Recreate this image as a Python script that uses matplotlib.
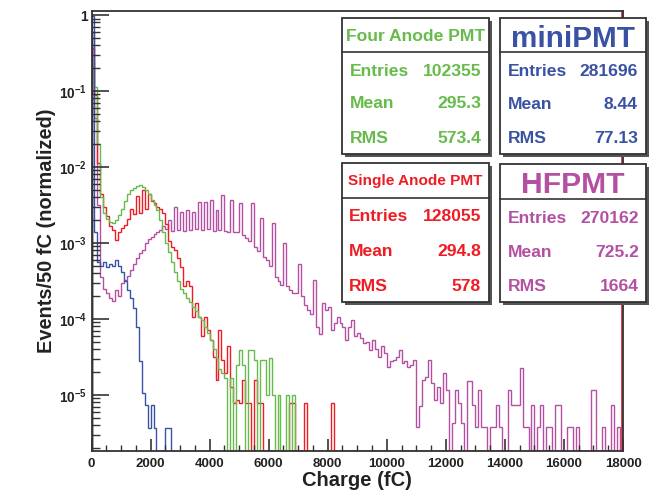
import numpy as np
import matplotlib.pyplot as plt
from matplotlib.patches import Rectangle
from matplotlib.lines import Line2D
from matplotlib.ticker import FixedLocator, FixedFormatter, LogLocator, NullFormatter, MultipleLocator
from matplotlib.transforms import offset_copy

plt.rcParams['font.family'] = ['Liberation Sans', 'DejaVu Sans']
plt.rcParams['font.weight'] = 'bold'
plt.rcParams['mathtext.fontset'] = 'custom'
plt.rcParams['mathtext.bf'] = 'Liberation Sans:bold'
plt.rcParams['mathtext.rm'] = 'Liberation Sans:bold'
plt.rcParams['mathtext.default'] = 'bf'

# ==========================================
# data: log10(normalized entries) per 100 fC bin, None = empty bin
# ==========================================
bin_width = 100
q_max = 18000

mini_log = [-0.01, -2.85, -3.25, -3.3, -3.25, -3.32, -3.28, -3.3, -3.22, -3.3,
            -3.38, -3.5, -3.62, -3.72, -3.85, -4.1, -4.55, -4.97, -5.13, -5.43,
            -5.13, -5.43, None, None, None, -5.43, -5.43]

four_log = [-0.62, -0.95, -1.7, -2.4, -2.6, -2.68, -2.72, -2.74, -2.7, -2.63,
            -2.55, -2.45, -2.36, -2.3, -2.27, -2.25, -2.24, -2.26, -2.3, -2.36,
            -2.43, -2.5, -2.57, -2.7, -2.85, -3.0, -3.12, -3.25, -3.38, -3.5,
            -3.6, -3.66, -3.72, -3.78, -3.84, -3.9, -3.98, -4.02, -4.1, -4.18,
            -4.28, -4.4, -4.52, -4.66, -4.71, -4.78, None, -4.78, None, -4.6,
            -4.41, -4.6, None, -4.41, -4.41, -4.54, None, -4.54, -4.54, -5.0,
            -4.51, -5.0, None, -5.0, None, None, -5.0, None, -5.0]

single_log = [-0.44, -1.05, -1.95, -2.35, -2.52, -2.65, -2.77, -2.83, -2.96, -2.86,
              -2.8, -2.76, -2.68, -2.55, -2.62, -2.38, -2.6, -2.3, -2.55, -2.35,
              -2.45, -2.47, -2.52, -2.55, -2.6, -2.75, -2.98, -3.05, -3.09, -3.2,
              -3.31, -3.57, -3.5, -3.57, -3.97, -3.79, -3.97, -4.23, -3.97, -4.15,
              -4.28, -4.5, -4.8, -4.14, -4.54, -4.71, -4.36, -4.89, -5.1, -5.07,
              -5.1, -4.8, -5.1, -5.1, None, -4.8, -5.1, -5.1, None, None,
              None, None, None, None, None, None, None, -5.1, -5.1, None,
              None, None, -5.1, None, None, None, None, None, None, None,
              None, -5.1]

hf_log = [-0.22, -1.35, -2.5, -3.45, -3.6, -3.66, -3.72, -3.77, -3.62, -3.7,
          -3.53, -3.49, -3.44, -3.36, -3.27, -3.2, -3.13, -3.09, -3.0, -2.95,
          -2.92, -2.88, -2.86, -2.83, -2.78, -2.82, -2.7, -2.84, -2.52, -2.83,
          -2.59, -2.84, -2.57, -2.83, -2.59, -2.82, -2.46, -2.83, -2.46, -2.82,
          -2.43, -2.84, -2.57, -2.83, -2.37, -2.84, -2.85, -2.43, -2.85, -2.86,
          -2.48, -2.9, -2.93, -2.98, -2.48, -3.05, -3.1, -2.67, -3.18, -3.22,
          -3.3, -2.74, -3.45, -3.5, -3.55, -3.0, -3.57, -3.62, -3.66, -3.66,
          -3.27, -3.7, -3.82, -3.88, -3.93, -3.49, -4.1, -4.2, -3.79, -3.88,
          -3.84, -4.14, -4.05, -3.97, -4.05, -4.1, -4.28, -4.1, -4.01, -4.23,
          -4.18, -4.25, -4.32, -4.3, -4.41, -4.28, -4.4, -4.5, -4.36, -4.45,
          -4.63, -4.55, -4.54, -4.5, -4.41, -4.58, -4.55, -4.63, -4.6, -4.54,
          -5.42, -5.15, -4.8, -4.76, -4.54, -4.84, -5.07, -4.9, -5.11, -4.71,
          -4.93, None, -5.37, -4.93, -5.1, -5.37, None, -4.82, -4.82, -5.13,
          -5.42, -4.94, -5.42, -5.42, None, -5.42, -5.42, -5.13, -5.42, None,
          None, -4.94, -5.13, -5.13, -5.13, -4.65, -5.42, -5.42, None, -5.13,
          None, -5.42, -5.13, None, -5.42, -5.42, None, -5.13, -5.13, None,
          None, -5.42, -5.42, None, -5.42, None, None, None, None, -4.94,
          -4.94, None, None, -5.42, None, None, -5.13, None, -5.42, None]

names = ["Four Anode PMT", "miniPMT", "Single Anode PMT", "HFPMT"]
entries = ["102355", "281696", "128055", "270162"]
means = ["295.3", "8.44", "294.8", "725.2"]
rmss = ["573.4", "77.13", "578", "1664"]

c_green = '#66bb4a'
c_blue = '#3a52a4'
c_red = '#ee1c24'
c_mag = '#b450a2'

y_lo, y_hi = 1.83e-6, 1.13
edges = np.arange(0, q_max + bin_width, bin_width)


def to_values(logs):
    v = np.full(len(edges) - 1, y_lo)
    for i, l in enumerate(logs):
        if l is not None:
            v[i] = 10.0 ** l
    return v


W, H = 667, 495
fig = plt.figure(figsize=(W / 100, H / 100), dpi=100)
ax = fig.add_axes([91.5 / W, 1 - 451 / H, (623 - 91.5) / W, (451 - 11) / H])

ax.stairs(to_values(hf_log), edges, baseline=y_lo, color=c_mag, lw=1.0)
ax.stairs(to_values(single_log), edges, baseline=y_lo, color=c_red, lw=1.0)
ax.stairs(to_values(four_log), edges, baseline=y_lo, color=c_green, lw=1.0)
ax.stairs(to_values(mini_log), edges, baseline=y_lo, color=c_blue, lw=1.0)

# red edge line just inside the right frame
ax.plot([q_max, q_max], [0, 1], color=c_red, lw=1.2,
        transform=offset_copy(ax.get_xaxis_transform(), fig=fig, x=-1.5, units='dots'))

ax.set_yscale('log')
ax.set_xlim(0, q_max)
ax.set_ylim(y_lo, y_hi)

ax.yaxis.set_major_locator(FixedLocator([1e-5, 1e-4, 1e-3, 1e-2, 1e-1, 1]))
ax.yaxis.set_major_formatter(FixedFormatter([r'$10^{-5}$', r'$10^{-4}$', r'$10^{-3}$',
                                             r'$10^{-2}$', r'$10^{-1}$', '1']))
ax.yaxis.set_minor_locator(LogLocator(base=10, subs=np.arange(2, 10)))
ax.yaxis.set_minor_formatter(NullFormatter())
ax.xaxis.set_major_locator(MultipleLocator(2000))
ax.xaxis.set_minor_locator(MultipleLocator(500))

ax.tick_params(axis='y', which='major', direction='in', length=12, width=1.2,
               labelsize=9.8, pad=3, color='#333333', labelcolor='#222222')
ax.tick_params(axis='y', which='minor', direction='in', length=6, width=1.0, color='#333333')
ax.tick_params(axis='x', which='major', direction='in', length=8.5, width=1.2,
               labelsize=9.5, pad=5, color='#333333', labelcolor='#222222')
ax.tick_params(axis='x', which='minor', direction='in', length=4.5, width=1.0, color='#333333')
for s in ax.spines.values():
    s.set_linewidth(1.3)
    s.set_color('#333333')

fig.text(46.5 / W, 1 - 230.5 / H, 'Events/50 fC (normalized)', rotation=90,
         ha='center', va='center', fontsize=14.4, color='#222222')
fig.text(357 / W, 1 - 481 / H, 'Charge (fC)', ha='center', va='center',
         fontsize=14.5, color='#222222')


# ==========================================
# stat boxes (pixel layout, top-left origin)
# ==========================================
def fxy(x, y):
    return x / W, 1 - y / H


def stat_box(x0, y0, x1, y1, yline, title, tsize, tbase, color, rows, row_base, xl, xr):
    fig.add_artist(Rectangle(fxy(x0 + 3, y1 + 3), (x1 - x0) / W, (y1 - y0) / H,
                             transform=fig.transFigure, facecolor='#555555', edgecolor='none'))
    fig.add_artist(Rectangle(fxy(x0, y1), (x1 - x0) / W, (y1 - y0) / H,
                             transform=fig.transFigure, facecolor='white',
                             edgecolor='#333333', lw=1.3))
    fig.add_artist(Line2D([x0 / W, x1 / W], [1 - yline / H] * 2, transform=fig.transFigure,
                          color='#333333', lw=1.2))
    fig.text(*fxy((x0 + x1) / 2, tbase), title, ha='center', va='baseline',
             fontsize=tsize, color=color)
    for (lab, val), yb in zip(rows, row_base):
        fig.text(*fxy(xl, yb), lab, ha='left', va='baseline', fontsize=12.6, color=color)
        fig.text(*fxy(xr, yb), val, ha='right', va='baseline', fontsize=12.6, color=color)


def rows_of(i):
    return [("Entries", entries[i]), ("Mean", means[i]), ("RMS", rmss[i])]


stat_box(342, 18, 489, 154, 52, names[0], 12.6, 40.7, c_green, rows_of(0),
         [76, 108.3, 142.7], 350, 481)
stat_box(500, 18, 646, 154, 52, names[1], 21.3, 46.7, c_blue, rows_of(1),
         [76, 109, 143.3], 508, 638)
stat_box(342, 163, 489, 302, 198, names[2], 11.1, 185, c_red, rows_of(2),
         [220.7, 256, 290.7], 349, 481)
stat_box(500, 164, 646, 302, 199, names[3], 21.7, 192.7, c_mag, rows_of(3),
         [222.7, 256.7, 290.7], 508, 639)

fig.savefig('out.png', dpi=100)
